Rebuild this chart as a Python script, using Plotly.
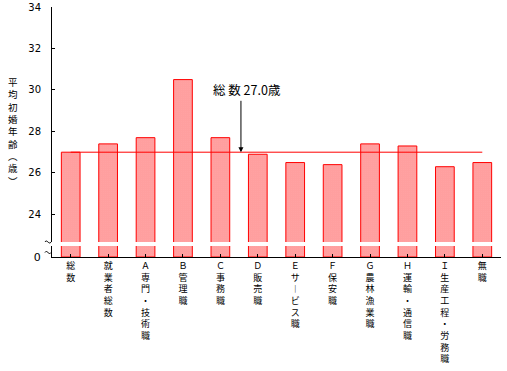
import plotly.graph_objects as go

categories = ["総数", "就業者総数", "Ａ専門・技術職", "Ｂ管理職", "Ｃ事務職", "Ｄ販売職",
              "Ｅサービス職", "Ｆ保安職", "Ｇ農林漁業職", "Ｈ運輸・通信職", "Ｉ生産工程・労務職", "無職"]
values = [27.0, 27.4, 27.7, 30.5, 27.7, 26.9, 26.5, 26.4, 27.4, 27.3, 26.3, 26.5]
total_value = 27.0
y_ticks = [24, 26, 28, 30, 32, 34]
y_title = "平均初婚年齢（歳）"
note_text = "総 数 27.0歳"

FONT = "Noto Sans CJK JP, Noto Sans, sans-serif"


def vertical(s):
    s = s.replace("ー", "︱").replace("（", "︵").replace("）", "︶")
    return "<br>".join(list(s))


idx = list(range(len(categories)))
marker = dict(color="white", line=dict(color="red", width=1),
              pattern=dict(shape=".", fgcolor="red", bgcolor="white", size=2, solidity=0.75))

fig = go.Figure()
fig.add_trace(go.Bar(x=idx, y=values, marker=marker, width=0.5, xaxis="x", yaxis="y",
                     showlegend=False, hoverinfo="skip"))
fig.add_trace(go.Bar(x=idx, y=values, marker=marker, width=0.5, xaxis="x", yaxis="y2",
                     showlegend=False, hoverinfo="skip"))

fig.update_layout(
    width=507, height=371,
    margin=dict(l=52, r=6, t=7, b=114),
    paper_bgcolor="white", plot_bgcolor="white",
    font=dict(family=FONT, size=10, color="black"),
    bargap=0.5,
    xaxis=dict(range=[-0.5, len(categories) - 0.5], tickmode="array", tickvals=idx,
               ticktext=[vertical(c) for c in categories], tickangle=0, automargin=False,
               showline=True, linecolor="black", linewidth=1, ticks="inside",
               tickson="boundaries", ticklen=3, tickcolor="black", showgrid=False,
               zeroline=False, anchor="y", tickfont=dict(size=9, family=FONT)),
    yaxis=dict(domain=[0, 0.044], range=[0, 0.53], tickmode="array", tickvals=[0],
               ticktext=["0"], showline=True, linecolor="black", linewidth=1, automargin=False,
               ticks="inside", ticklen=3, tickcolor="black", showgrid=False,
               zeroline=False, ticklabelstandoff=8, tickfont=dict(size=11, family="DejaVu Sans")),
    yaxis2=dict(domain=[0.06, 1], range=[22.67, 34], tickmode="array", tickvals=y_ticks,
                showline=True, linecolor="black", linewidth=1, ticks="inside", automargin=False,
                ticklen=3, tickcolor="black", showgrid=False, zeroline=False,
                anchor="x", ticklabelstandoff=8, tickfont=dict(size=10, family="DejaVu Sans")),
)

# 総数 reference line
fig.add_shape(type="line", xref="x", yref="y2", x0=0, x1=len(categories) - 1,
              y0=total_value, y1=total_value, line=dict(color="red", width=1), layer="above")

# annotation with arrow
fig.add_annotation(xref="x", yref="y2", x=4.55, y=total_value, ax=4.55, ay=29.55,
                   axref="x", ayref="y2", text="", showarrow=True, arrowhead=2,
                   arrowsize=1, arrowwidth=1, arrowcolor="black")
fig.add_annotation(xref="x", yref="y2", x=4.72, y=30.0, text=note_text, showarrow=False,
                   font=dict(size=12.5, family=FONT, color="black"))

# y-axis title (vertical)
fig.add_annotation(xref="paper", yref="paper", x=-0.087, y=0.504, text=vertical(y_title),
                   xanchor="center", yanchor="middle",
                   showarrow=False, font=dict(size=9.5, family=FONT, color="black"))

# axis break marks (small wave next to the axis)
for yc in [0.06, 0.018]:
    fig.add_shape(type="path", xref="paper", yref="paper",
                  path=f"M -0.0156,{yc} C -0.0115,{yc + 0.014} -0.0065,{yc - 0.014} -0.0022,{yc}",
                  line=dict(color="black", width=1))

fig.write_html("out.html", post_script="document.body.style.margin='0';",
               config={"displayModeBar": False})
